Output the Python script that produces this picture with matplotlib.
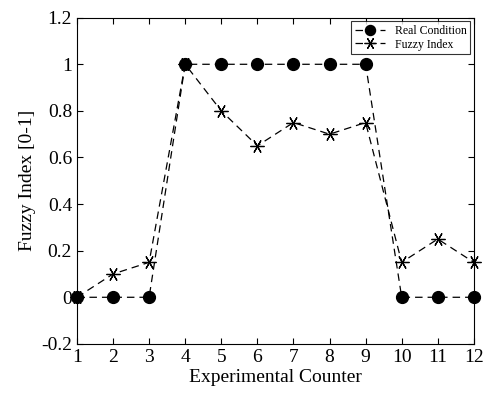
import matplotlib
matplotlib.use("Agg")
import matplotlib.pyplot as plt

counter = [1, 2, 3, 4, 5, 6, 7, 8, 9, 10, 11, 12]
real_condition = [0, 0, 0, 1, 1, 1, 1, 1, 1, 0, 0, 0]
fuzzy_index = [0, 0.1, 0.15, 1, 0.8, 0.65, 0.75, 0.7, 0.75, 0.15, 0.25, 0.15]
yticks = [-0.2, 0, 0.2, 0.4, 0.6, 0.8, 1, 1.2]
yticklabels = ["-0.2", "0", "0.2", "0.4", "0.6", "0.8", "1", "1.2"]

plt.rcParams['font.family'] = ['Liberation Serif', 'DejaVu Serif']

fig = plt.figure(figsize=(4.87, 3.93), dpi=100)
ax = fig.add_axes([0.158, 0.125, 0.815, 0.830])

ax.plot(counter, real_condition, color='k', linestyle='--', marker='o', markersize=8.5,
        linewidth=0.9, dashes=(6, 4), label='Real Condition', clip_on=False, zorder=4)
ax.plot(counter, fuzzy_index, color='k', linestyle='--', marker=(6, 2, 90), markersize=10,
        linewidth=0.9, dashes=(6, 4), label='Fuzzy Index',
        markeredgewidth=0.9, clip_on=False, zorder=3)

ax.set_xlim(1, 12)
ax.set_ylim(-0.2, 1.2)
ax.set_xticks(counter)
ax.set_yticks(yticks)
ax.set_yticklabels(yticklabels)
ax.tick_params(direction='in', labelsize=14, length=4, width=0.8, top=True, right=True)
ax.tick_params(axis='x', pad=4)
ax.set_xlabel('Experimental Counter', fontsize=14, labelpad=2)
ax.set_ylabel('Fuzzy Index [0-1]', fontsize=14)

leg = ax.legend(loc='upper right', fontsize=8.5, frameon=True, fancybox=False,
                edgecolor='black', borderaxespad=0.3, handlelength=2.6,
                labelspacing=0.15, borderpad=0.3, markerscale=0.85)
leg.get_frame().set_linewidth(0.8)
leg.set_zorder(5)

fig.savefig('out.png', dpi=100)
